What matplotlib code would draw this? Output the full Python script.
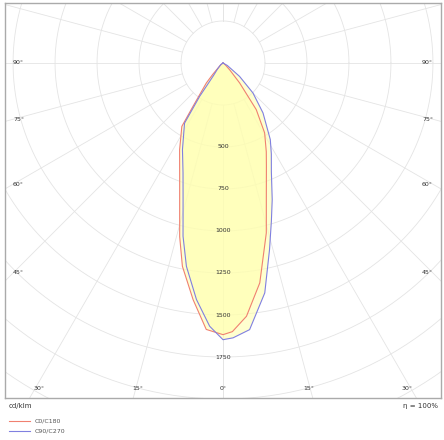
import numpy as np
import matplotlib
matplotlib.use("Agg")
import matplotlib.pyplot as plt

# gamma (deg from nadir), intensity (cd/klm)
c0_gamma = [0, 2, 5.3, 9.5, 14.3, 18, 22.8, 26, 30.8, 35.5, 39.8, 44, 50, 60, 90]
c0_int = [1617, 1600, 1514, 1327, 1044, 835, 667, 588, 484, 341, 155, 60, 20, 5, 0]
c180_gamma = [0, 3.6, 7.2, 11.3, 14, 17.6, 20, 26.6, 33, 34.7, 39.8, 42, 50, 90]
c180_int = [1617, 1589, 1420, 1234, 1066, 853, 754, 577, 450, 313, 155, 91, 20, 0]
c90_gamma = [0, 2.1, 5.7, 10.3, 14, 17, 19.8, 24, 28, 31.7, 38.7, 45, 51, 60, 90]
c90_int = [1647, 1637, 1595, 1391, 1145, 985, 865, 708, 613, 536, 381, 252, 127, 30, 0]
c270_gamma = [0, 2.9, 6.4, 10.2, 13, 16.3, 20, 25.1, 32.6, 35, 36.9, 42, 55, 90]
c270_int = [1647, 1569, 1417, 1230, 1058, 847, 696, 569, 425, 242, 99, 50, 15, 0]

ring_vals = [500, 750, 1000, 1250, 1500, 1750]

def curve(gr, ir, gl, il):
    gr = np.radians(gr); gl = np.radians(gl)
    ir = np.array(ir, float); il = np.array(il, float)
    xr = ir * np.sin(gr); yr = -ir * np.cos(gr)
    xl = -il * np.sin(gl); yl = -il * np.cos(gl)
    x = np.concatenate([xl[::-1], xr]); y = np.concatenate([yl[::-1], yr])
    return x, y

fig = plt.figure(figsize=(4.44, 4.40), dpi=100)
ax = fig.add_axes([5/444, 1-398/440, 436/444, 395/440])
ax.set_xlim(-1298, 1298)
ax.set_ylim(-1994, 357)
ax.set_aspect('auto')
ax.set_xticks([]); ax.set_yticks([])
for s in ax.spines.values():
    s.set_color('#aaaaaa'); s.set_linewidth(1.0)

gc = '#e4e4e4'
t = np.linspace(0, 2*np.pi, 400)
for r in range(250, 4001, 250):
    ax.plot(r*np.cos(t), r*np.sin(t), color=gc, lw=0.6, zorder=1)
for a in range(0, 181, 15):
    for sgn in (1, -1):
        ar = np.radians(a)
        ax.plot([sgn*250*np.sin(ar), sgn*5000*np.sin(ar)],
                [-250*np.cos(ar), -5000*np.cos(ar)], color=gc, lw=0.6, zorder=1)

x1, y1 = curve(c0_gamma, c0_int, c180_gamma, c180_int)
x2, y2 = curve(c90_gamma, c90_int, c270_gamma, c270_int)
ax.fill(x1, y1, color='#ffffb0', alpha=0.6, lw=0, zorder=2)
ax.fill(x2, y2, color='#ffffb0', alpha=0.6, lw=0, zorder=2)
ax.plot(x1, y1, color='#f08070', lw=0.8, zorder=3)
ax.plot(x2, y2, color='#8080e0', lw=0.8, zorder=3)

for v in ring_vals:
    ax.text(0, -v, str(v), fontsize=4.5, ha='center', va='center', color='#333333', zorder=4)

fs = 4.5
for a, yp in ((45, 273), (60, 185), (75, 120), (90, 63)):
    y = (63 - yp) * 5.952
    ax.text(-1250, y, f"{a}°", fontsize=fs, ha='left', va='center', color='#333333')
    ax.text(1250, y, f"{a}°", fontsize=fs, ha='right', va='center', color='#333333')
for a in (0, 15, 30):
    xb = 1900 * np.tan(np.radians(a))
    for sgn in ((1,) if a == 0 else (1, -1)):
        ax.text(sgn*xb, -1950, f"{a}°", fontsize=fs, ha='center', va='bottom', color='#333333')

fig.text(9/444, 1-406/440, "cd/klm", fontsize=5, ha='left', va='center', color='#333333')
fig.text(438/444, 1-406/440, "η = 100%", fontsize=5, ha='right', va='center', color='#333333')
fig.add_artist(plt.Line2D([9/444, 30/444], [1-421/440]*2, color='#f08070', lw=0.8))
fig.add_artist(plt.Line2D([9/444, 30/444], [1-431/440]*2, color='#8080e0', lw=0.8))
fig.text(35/444, 1-421/440, "C0/C180", fontsize=4.5, ha='left', va='center', color='#555555')
fig.text(35/444, 1-431/440, "C90/C270", fontsize=4.5, ha='left', va='center', color='#555555')

fig.savefig("out.png", dpi=100)
